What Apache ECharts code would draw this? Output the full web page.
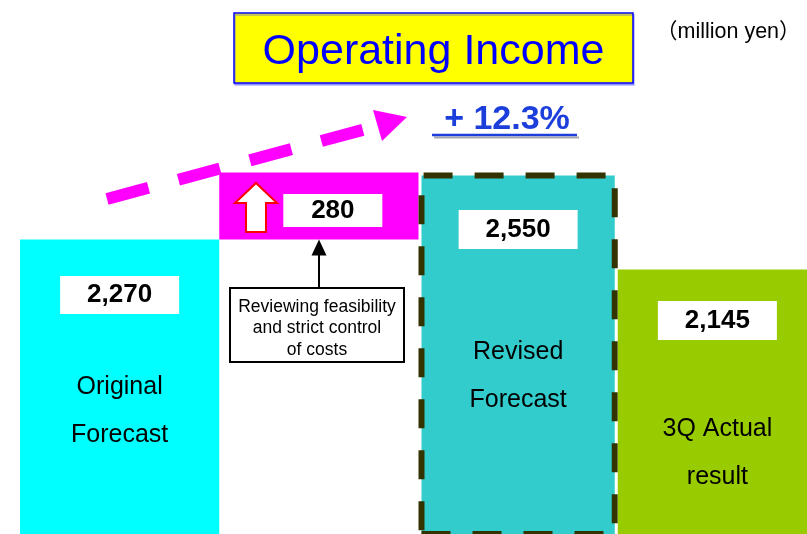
<!DOCTYPE html>
<html>
<head>
<meta charset="utf-8">
<title>Operating Income</title>
<script src="https://cdn.jsdelivr.net/npm/echarts@6/dist/echarts.min.js"></script>
<style>
  html, body { margin: 0; padding: 0; background: #fff; }
  #chart { width: 807px; height: 534px; }
</style>
</head>
<body>
<div id="chart"></div>
<script>
// data
const categories = ['Original\nForecast', '', 'Revised\nForecast', '3Q Actual\nresult'];
const barValues = [2270, 280, 2550, 2145];
const baseValues = ['-', 2270, '-', '-'];   // invisible base under the increase bar
const barColors = ['#00ffff', '#ff00ff', '#33cccc', '#99cc00'];
const titleText = 'Operating Income';
const unitText = '（million yen）';
const growthText = '+ 12.3%';
const noteLines = ['Reviewing feasibility', 'and strict control', 'of costs'];

// label layout per bar (box offset from bar top, box size, gap before the name)
const labelX = ['50%', '57%', '50%', '50%'];
const labelY = [36.5, 21.6, 37.6, 31.6];
const boxW = [119, 99, 119, 119];
const boxH = [38, 33, 39, 39];
const gapH = [49, 0, 79, 65];

const FONT = '"Liberation Sans", Arial, "Noto Sans CJK JP", sans-serif';
const fmt = v => String(v).replace(/\B(?=(\d{3})+(?!\d))/g, ',');

const chart = echarts.init(document.getElementById('chart'));

const items = barValues.map((v, i) => {
  const rich = {
    n: { fontSize: 25, lineHeight: 48, color: '#000', fontFamily: FONT, align: 'center' }
  };
  rich['b' + i] = {
    width: boxW[i], height: boxH[i], lineHeight: boxH[i], backgroundColor: '#fff',
    align: 'center', fontSize: 26, fontWeight: 'bold', color: '#000', fontFamily: FONT
  };
  rich['g' + i] = { height: gapH[i], lineHeight: gapH[i], fontSize: 10 };
  let text = '{b' + i + '|' + fmt(v) + '}';
  if (categories[i]) {
    text += '\n{g' + i + '| }\n' + categories[i].split('\n').map(s => '{n|' + s + '}').join('\n');
  }
  const item = {
    value: v,
    itemStyle: { color: barColors[i] },
    label: {
      show: true,
      position: [labelX[i], labelY[i]],
      align: 'center',
      verticalAlign: 'top',
      formatter: text,
      rich: rich
    }
  };
  if (i === 2) {
    item.itemStyle.borderColor = '#333300';
    item.itemStyle.borderWidth = 6;
    item.itemStyle.borderType = [29, 22];
  }
  return item;
});

chart.setOption({
  animation: false,
  backgroundColor: '#fff',
  grid: { left: 20, top: 0, width: 797, height: 534, outerBoundsMode: 'none', containLabel: false },
  xAxis: {
    type: 'category',
    data: categories,
    show: false
  },
  yAxis: {
    type: 'value',
    min: 1040,
    max: 3270,
    show: false
  },
  series: [
    {
      name: 'base',
      type: 'bar',
      stack: 'w',
      barWidth: '100%',
      data: baseValues,
      itemStyle: { color: 'transparent' },
      silent: true
    },
    {
      name: 'Operating Income',
      type: 'bar',
      stack: 'w',
      barWidth: '100%',
      data: items
    }
  ]
});

// pointer from the note box up to the bottom of the increase bar
const yBase = chart.convertToPixel({ yAxisIndex: 0 }, barValues[0]);

chart.setOption({
  graphic: [
    {
      type: 'rect', z: 100,
      shape: { x: 234, y: 13, width: 399, height: 70 },
      style: {
        fill: '#ffff00', stroke: '#0000ff', lineWidth: 1.5,
        shadowColor: 'rgba(80,80,255,0.45)', shadowOffsetX: 1, shadowOffsetY: 2
      }
    },
    {
      type: 'text', z: 101, x: 433.5, y: 52,
      style: {
        text: titleText, fontSize: 43, fontFamily: FONT, fill: '#0000ff',
        align: 'center', verticalAlign: 'middle'
      }
    },
    {
      type: 'text', z: 101, x: 656, y: 32,
      style: {
        text: unitText, fontSize: 21.5, fontFamily: FONT, fill: '#000',
        align: 'left', verticalAlign: 'middle'
      }
    },
    {
      type: 'text', z: 101, x: 507, y: 120,
      style: {
        text: growthText, fontSize: 34, fontWeight: 'bold', fontFamily: FONT, fill: '#1c3fdc',
        align: 'center', verticalAlign: 'middle',
        textShadowColor: '#a8a8a8', textShadowOffsetX: 2, textShadowOffsetY: 2, textShadowBlur: 0
      }
    },
    {
      type: 'line', z: 100,
      shape: { x1: 434, y1: 137.5, x2: 579, y2: 137.5 },
      style: { stroke: '#a8a8a8', lineWidth: 2 }
    },
    {
      type: 'line', z: 101,
      shape: { x1: 432, y1: 135, x2: 577, y2: 135 },
      style: { stroke: '#1c3fdc', lineWidth: 2.5 }
    },
    {
      type: 'line', z: 100,
      shape: { x1: 107, y1: 199, x2: 377, y2: 126 },
      style: { stroke: '#ff00ff', lineWidth: 12, lineDash: [43, 31], lineCap: 'butt' }
    },
    {
      type: 'polygon', z: 100,
      shape: { points: [[407, 117], [373, 110], [382, 141]] },
      style: { fill: '#ff00ff' }
    },
    {
      type: 'polygon', z: 100,
      shape: { points: [[256, 183], [277, 203], [266, 203], [266, 232], [246, 232], [246, 203], [235, 203]] },
      style: { fill: '#fff', stroke: '#ff0000', lineWidth: 2 }
    },
    {
      type: 'rect', z: 100,
      shape: { x: 230, y: 288, width: 174, height: 74 },
      style: { fill: '#fff', stroke: '#000', lineWidth: 2 }
    },
    {
      type: 'text', z: 101, x: 317, y: 328.5,
      style: {
        text: noteLines.join('\n'), fontSize: 17.5, lineHeight: 21.5, fontFamily: FONT, fill: '#000',
        align: 'center', verticalAlign: 'middle'
      }
    },
    {
      type: 'line', z: 100,
      shape: { x1: 319, y1: 288, x2: 319, y2: yBase + 12 },
      style: { stroke: '#000', lineWidth: 2 }
    },
    {
      type: 'polygon', z: 100,
      shape: { points: [[319, yBase], [311.5, yBase + 16], [326.5, yBase + 16]] },
      style: { fill: '#000' }
    }
  ]
});
</script>
</body>
</html>
